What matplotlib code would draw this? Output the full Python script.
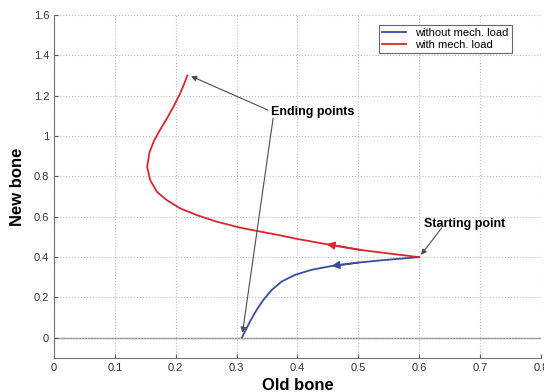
"""plot.py
old bone vs new bone trajectories
"""
import matplotlib
matplotlib.use("Agg")
import matplotlib.pyplot as plt
from matplotlib.ticker import FormatStrFormatter

# with mechanical load (from starting point to ending point)
red_x = [0.600, 0.550, 0.503, 0.448, 0.400, 0.368, 0.333, 0.306, 0.267, 0.234,
         0.207, 0.185, 0.169, 0.158, 0.153, 0.157, 0.164, 0.174, 0.186, 0.197,
         0.207, 0.214, 0.219]
red_y = [0.400, 0.418, 0.436, 0.464, 0.490, 0.510, 0.530, 0.546, 0.576, 0.609,
         0.642, 0.683, 0.724, 0.782, 0.848, 0.920, 0.975, 1.030, 1.090, 1.150,
         1.210, 1.260, 1.300]

# without mechanical load
blue_x = [0.600, 0.544, 0.500, 0.456, 0.423, 0.396, 0.374, 0.358, 0.344, 0.333,
          0.322, 0.311, 0.309]
blue_y = [0.400, 0.386, 0.373, 0.356, 0.337, 0.312, 0.279, 0.238, 0.188, 0.139,
          0.081, 0.015, 0.003]

x_ticks = [0, 0.1, 0.2, 0.3, 0.4, 0.5, 0.6, 0.7, 0.8]
y_ticks = [0, 0.2, 0.4, 0.6, 0.8, 1.0, 1.2, 1.4, 1.6]

BLUE = '#3a4c9e'
RED = '#d8282f'


def main():
    plt.rcParams['font.family'] = ['Liberation Sans', 'DejaVu Sans']

    fig = plt.figure(figsize=(5.44, 3.92), dpi=100)
    ax = fig.add_axes([0.0993, 0.0867, 0.895, 0.875])

    ax.axhline(0, color='0.55', lw=1.0, zorder=1)
    ax.plot(blue_x, blue_y, color=BLUE, lw=1.3, label='without mech. load', zorder=3)
    ax.plot(red_x, red_y, color=RED, lw=1.3, label='with mech. load', zorder=3)

    # direction arrows on the curves
    for xs, ys, c in [(red_x, red_y, RED), (blue_x, blue_y, BLUE)]:
        ax.annotate('', xy=(xs[3], ys[3]), xytext=(xs[2], ys[2]),
                    arrowprops=dict(arrowstyle='-|>', color=c, lw=1.3,
                                    mutation_scale=11, shrinkA=0, shrinkB=0),
                    zorder=4)

    # text annotations
    arrow_kw = dict(arrowstyle='-|>', color='0.3', lw=0.8, mutation_scale=8,
                    shrinkA=0, shrinkB=0)
    ax.text(0.356, 1.12, 'Ending points', fontsize=9, fontweight='bold',
            va='center', ha='left')
    ax.annotate('', xy=(0.225, 1.297), xytext=(0.3515, 1.129), arrowprops=arrow_kw)
    ax.annotate('', xy=(0.3097, 0.025), xytext=(0.36, 1.089), arrowprops=arrow_kw)
    ax.text(0.608, 0.564, 'Starting point', fontsize=9, fontweight='bold',
            va='center', ha='left')
    ax.annotate('', xy=(0.603, 0.411), xytext=(0.637, 0.545), arrowprops=arrow_kw)

    ax.set_xlim(0, 0.8)
    ax.set_ylim(-0.1, 1.6)
    ax.set_xticks(x_ticks)
    ax.set_yticks(y_ticks)
    ax.xaxis.set_major_formatter(FormatStrFormatter('%g'))
    ax.yaxis.set_major_formatter(FormatStrFormatter('%g'))
    ax.tick_params(direction='in', length=3, labelsize=8, colors='0.35',
                   labelcolor='0.2')
    ax.grid(True, linestyle=':', color='0.75', lw=0.8)
    for side in ['top', 'right']:
        ax.spines[side].set_visible(False)
    for side in ['left', 'bottom']:
        ax.spines[side].set_color('0.45')

    ax.set_xlabel('Old bone', fontsize=12, fontweight='bold', labelpad=4)
    ax.set_ylabel('New bone', fontsize=12, fontweight='bold', labelpad=6)

    leg = ax.legend(loc='upper right', bbox_to_anchor=(0.952, 0.988), fontsize=8,
                    fancybox=False, framealpha=1, edgecolor='0.4',
                    handlelength=2.2, borderpad=0.3, labelspacing=0.15)
    leg.get_frame().set_linewidth(0.8)

    fig.savefig('out.png', dpi=100)


if __name__ == "__main__":
    main()
